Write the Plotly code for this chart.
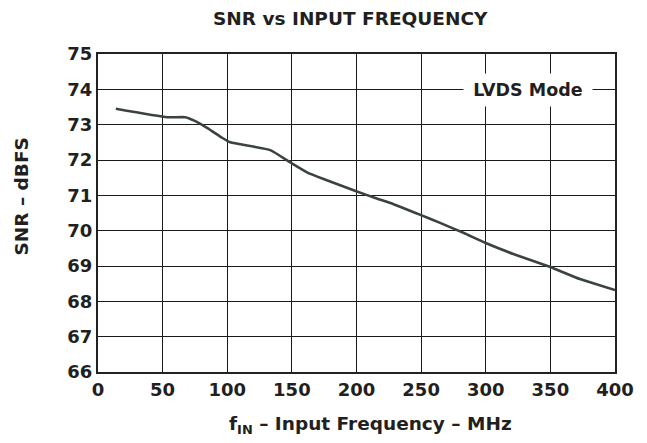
import plotly.graph_objects as go

freq_mhz = [13.8, 53.5, 67.6, 74, 84.4, 96, 102.4, 133.3, 148.8, 161.7, 174.5, 200.3, 214,
            228.6, 250, 264.7, 282.7, 300, 321.3, 350, 372.9, 400]
snr_dbfs = [73.45, 73.21, 73.21, 73.12, 72.91, 72.63, 72.5, 72.28, 71.93, 71.65, 71.46, 71.11, 70.93,
            70.75, 70.44, 70.22, 69.94, 69.65, 69.34, 68.97, 68.63, 68.32]
x_ticks = [0, 50, 100, 150, 200, 250, 300, 350, 400]
y_ticks = [66, 67, 68, 69, 70, 71, 72, 73, 74, 75]

FONT = "DejaVu Sans, sans-serif"
TXT = "#231f20"

L, R, T, B = 97.5, 32, 54, 71
W, H = 647, 443
pw, ph = W - L - R, H - T - B

def px(xp):
    return (xp - L) / pw

def py(yp):
    return (H - B - yp) / ph

fig = go.Figure()
fig.add_trace(go.Scatter(x=freq_mhz, y=snr_dbfs, mode="lines",
                         line=dict(color="#3a4242", width=2.6, shape="spline", smoothing=0.4),
                         showlegend=False, hoverinfo="skip"))

axis_common = dict(showgrid=True, gridcolor="#1a1a1a", gridwidth=1.4,
                   showline=True, linecolor="#222", linewidth=2, mirror=True,
                   zeroline=False, ticks="",
                   tickfont=dict(family=FONT, size=18, color=TXT))

fig.update_xaxes(range=[0, 400], tickvals=x_ticks, ticktext=["<b>%d</b>" % v for v in x_ticks], **axis_common)
fig.update_yaxes(range=[66, 75], tickvals=y_ticks, ticktext=["<b>%d</b>" % v for v in y_ticks], **axis_common)

fig.update_layout(
    width=W, height=H,
    margin=dict(l=L, r=R, t=T, b=B, pad=0),
    paper_bgcolor="white", plot_bgcolor="white",
    font=dict(family=FONT, color=TXT),
    annotations=[
        dict(text="<b>SNR vs INPUT FREQUENCY</b>", xref="paper", yref="paper",
             x=px(350), y=py(19), xanchor="center", yanchor="middle", showarrow=False,
             font=dict(family=FONT, size=18.5, color=TXT)),
        dict(text="<b>f<sub>IN</sub> – Input Frequency – MHz</b>", xref="paper", yref="paper",
             x=px(370), y=py(439), xanchor="center", yanchor="bottom", showarrow=False,
             font=dict(family=FONT, size=18.5, color=TXT)),
        dict(text="<b>SNR – dBFS</b>", xref="paper", yref="paper", textangle=-90,
             x=px(20), y=py(196), xanchor="center", yanchor="middle", showarrow=False,
             font=dict(family=FONT, size=18.5, color=TXT)),
        dict(text="<b>LVDS Mode</b>", xref="paper", yref="paper",
             x=px(528), y=py(90), xanchor="center", yanchor="middle", showarrow=False,
             bgcolor="white", width=128, height=32, borderpad=0,
             font=dict(family=FONT, size=17.5, color=TXT)),
    ],
)

fig.write_html("out.html", config={"displayModeBar": False},
               post_script="document.body.style.margin='0px';")
